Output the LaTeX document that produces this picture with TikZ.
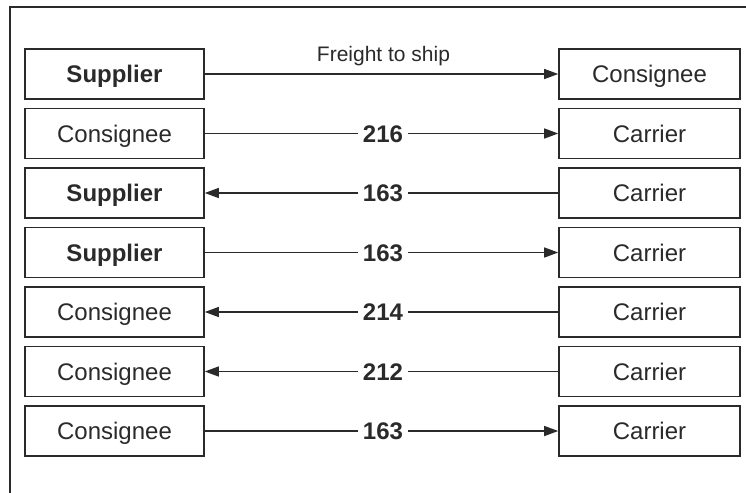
\documentclass[tikz,border=0pt]{standalone}
\usepackage{fontspec}
\setmainfont{Liberation Sans}
\usetikzlibrary{arrows.meta}
\definecolor{ink}{HTML}{2A2A2A}
\begin{document}
\begin{tikzpicture}[x=1pt,y=-1pt,
  box/.style={draw=ink, line width=1.6pt, minimum width=179pt, minimum height=50pt,
    text height=17pt, text depth=0pt, inner sep=0pt, text=ink,
    font=\fontsize{24}{24}\selectfont},
  rbox/.style={box, minimum width=181pt},
  lbl/.style={inner xsep=5pt, inner ysep=0pt, text height=17pt, text depth=0pt, text=ink,
    font=\fontsize{24}{24}\selectfont\bfseries},
  conn/.style={draw=ink, line width=1.4pt},
  tip/.style={conn, -{Triangle[length=14pt,width=10pt]}},
  pit/.style={conn, {Triangle[length=14pt,width=10pt]}-}]
\useasboundingbox (0,0) rectangle (746,492);
\fill[white] (0,0) rectangle (746,492);
\draw[ink, line width=2pt] (10,500) -- (10,7) -- (750,7);
% row 1
\node[box, font=\fontsize{24}{24}\selectfont\bfseries] (l1) at (114.5,74) {Supplier};
\node[rbox] (r1) at (649.5,74) {Consignee};
\node[text=ink, font=\fontsize{21}{21}\selectfont, anchor=base] (f1) at (383.5,62) {Freight to ship};
\draw[tip] (l1.east) -- (r1.west);
% row 2
\node[box] (l2) at (114.5,133.5) {Consignee};
\node[rbox] (r2) at (649.5,133.5) {Carrier};
\node[lbl] (m2) at (383,133.5) {216};
\draw[conn] (l2.east) -- (m2.west);
\draw[tip] (m2.east) -- (r2.west);
% row 3
\node[box, font=\fontsize{24}{24}\selectfont\bfseries] (l3) at (114.5,193) {Supplier};
\node[rbox] (r3) at (649.5,193) {Carrier};
\node[lbl] (m3) at (383,193) {163};
\draw[pit] (l3.east) -- (m3.west);
\draw[conn] (m3.east) -- (r3.west);
% row 4
\node[box, font=\fontsize{24}{24}\selectfont\bfseries] (l4) at (114.5,252.5) {Supplier};
\node[rbox] (r4) at (649.5,252.5) {Carrier};
\node[lbl] (m4) at (383,252.5) {163};
\draw[conn] (l4.east) -- (m4.west);
\draw[tip] (m4.east) -- (r4.west);
% row 5
\node[box] (l5) at (114.5,312) {Consignee};
\node[rbox] (r5) at (649.5,312) {Carrier};
\node[lbl] (m5) at (383,312) {214};
\draw[pit] (l5.east) -- (m5.west);
\draw[conn] (m5.east) -- (r5.west);
% row 6
\node[box] (l6) at (114.5,371.5) {Consignee};
\node[rbox] (r6) at (649.5,371.5) {Carrier};
\node[lbl] (m6) at (383,371.5) {212};
\draw[pit] (l6.east) -- (m6.west);
\draw[conn] (m6.east) -- (r6.west);
% row 7
\node[box] (l7) at (114.5,431) {Consignee};
\node[rbox] (r7) at (649.5,431) {Carrier};
\node[lbl] (m7) at (383,431) {163};
\draw[conn] (l7.east) -- (m7.west);
\draw[tip] (m7.east) -- (r7.west);
\end{tikzpicture}
\end{document}
